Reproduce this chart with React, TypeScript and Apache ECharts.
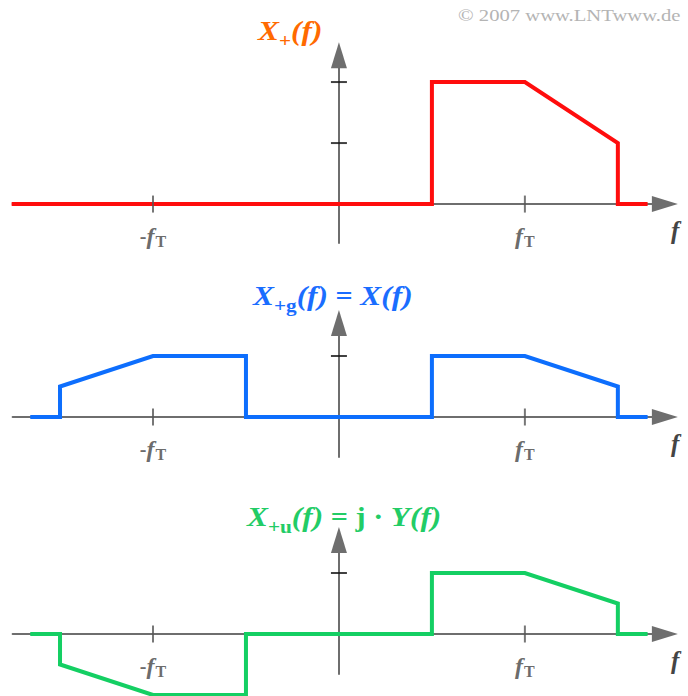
import React, { useEffect, useRef } from "react";
import * as echarts from "echarts";

// Frequency axis in units of f_T
const X_MIN = -1.755;
const X_MAX = 1.753;

// One-sided spectrum X+(f)
const freqPlus = [-1.76, 0.5, 0.5, 1, 1.5, 1.5, 1.66];
const ampPlus = [0, 0, 2, 2, 1, 0, 0];

// Even part X+g(f) = X(f)
const freqEven = [-1.66, -1.5, -1.5, -1, -0.5, -0.5, 0.5, 0.5, 1, 1.5, 1.5, 1.66];
const ampEven = [0, 0, 0.5, 1, 1, 0, 0, 1, 1, 0.5, 0, 0];

// Odd part X+u(f) = j·Y(f)
const freqOdd = [-1.66, -1.5, -1.5, -1, -0.5, -0.5, 0.5, 0.5, 1, 1.5, 1.5, 1.66];
const ampOdd = [0, 0, -0.5, -1, -1, 0, 0, 1, 1, 0.5, 0, 0];

// Tick positions
const xTickValues = [-1, 1];
const yTicksPlus = [1, 2];
const yTicksEven = [1];
const yTicksOdd = [1];

const SERIF = "'Liberation Serif', 'Times New Roman', serif";
const AXIS_GRAY = "#6e6e6e";
const LABEL_GRAY = "#444";

const panels = [
  {
    freq: freqPlus, amp: ampPlus, yTicks: yTicksPlus,
    color: "#ff0d0d", titleColor: "#ff6a00",
    yMin: -0.64, yMax: 2.44, top: 55.2, height: 187.9,
    title: "{i|X}{s|+}{i|(f)}", titleX: 258, titleY: 31,
    fLabelY: 230,
  },
  {
    freq: freqEven, amp: ampEven, yTicks: yTicksEven,
    color: "#0d6efd", titleColor: "#1a6dff",
    yMin: -0.656, yMax: 1.54, top: 323.06, height: 133.96,
    title: "{i|X}{s|+g}{i|(f)}{r| = }{i|X(f)}", titleX: 253, titleY: 296,
    fLabelY: 443,
  },
  {
    freq: freqOdd, amp: ampOdd, yTicks: yTicksOdd,
    color: "#14cf63", titleColor: "#22cc66",
    yMin: -0.656, yMax: 1.54, top: 540.06, height: 133.96,
    title: "{i|X}{s|+u}{i|(f)}{r| = j · }{i|Y(f)}", titleX: 247, titleY: 517,
    fLabelY: 660,
  },
];

const pairs = (xs: number[], ys: number[]) => xs.map((x, k) => [x, ys[k]]);

const tickLabelRich = {
  m: { fontFamily: SERIF, fontWeight: "bold", fontSize: 20, color: LABEL_GRAY },
  f: { fontFamily: SERIF, fontStyle: "italic", fontWeight: "bold", fontSize: 24, color: LABEL_GRAY },
  t: { fontFamily: SERIF, fontWeight: "bold", fontSize: 16, color: LABEL_GRAY, padding: [11, 0, 0, 1] },
};

export default function App() {
  const ref = useRef<HTMLDivElement>(null);

  useEffect(() => {
    if (!ref.current) return;
    const chart = echarts.init(ref.current, undefined, { renderer: "svg" });

    const grid: any[] = [];
    const xAxis: any[] = [];
    const yAxis: any[] = [];
    const series: any[] = [];
    const graphic: any[] = [];

    panels.forEach((p, i) => {
      grid.push({ left: 12.6, width: 652.3, top: p.top, height: p.height });
      xAxis.push({
        gridIndex: i,
        type: "value",
        min: X_MIN,
        max: X_MAX,
        axisLine: {
          onZero: true,
          symbol: ["none", "triangle"],
          symbolSize: [16, 26],
          lineStyle: { color: AXIS_GRAY, width: 2 },
        },
        axisTick: { show: false },
        splitLine: { show: false },
        axisLabel: { show: false },
      });
      yAxis.push({
        gridIndex: i,
        type: "value",
        min: p.yMin,
        max: p.yMax,
        axisLine: {
          onZero: true,
          symbol: ["none", "triangle"],
          symbolSize: [16, 26],
          lineStyle: { color: AXIS_GRAY, width: 2 },
        },
        axisTick: { show: false },
        axisLabel: { show: false },
        splitLine: { show: false },
      });
      series.push({
        type: "line",
        xAxisIndex: i,
        yAxisIndex: i,
        data: pairs(p.freq, p.amp),
        showSymbol: false,
        symbol: "none",
        clip: false,
        lineStyle: { color: p.color, width: 4, join: "miter" },
        z: 3,
        silent: true,
      });
      // ±f_T ticks on the frequency axis, labelled underneath
      series.push({
        type: "scatter",
        xAxisIndex: i,
        yAxisIndex: i,
        data: xTickValues.map((v) => [v, 0]),
        symbol: "rect",
        symbolSize: [2, 17],
        itemStyle: { color: "#555" },
        label: {
          show: true,
          position: "bottom",
          distance: 10,
          formatter: (prm: any) => (prm.value[0] < 0 ? "{m|-}{f|f}{t|T}" : "{f|f}{t|T}"),
          rich: tickLabelRich,
        },
        z: 4,
        silent: true,
      });
      series.push({
        type: "scatter",
        xAxisIndex: i,
        yAxisIndex: i,
        data: p.yTicks.map((v) => [0, v]),
        symbol: "rect",
        symbolSize: [16, 2],
        itemStyle: { color: "#111" },
        z: 4,
        silent: true,
      });

      const tStyle = { fontFamily: SERIF, fill: p.titleColor };
      graphic.push({
        type: "text",
        x: p.titleX,
        y: p.titleY,
        scaleX: 1.12,
        style: {
          text: p.title,
          textVerticalAlign: "middle",
          rich: {
            i: { ...tStyle, fontStyle: "italic", fontWeight: "bold", fontSize: 28 },
            s: { ...tStyle, fontWeight: "bold", fontSize: 19, padding: [18, 0, 0, 0] },
            r: { ...tStyle, fontWeight: "bold", fontSize: 27 },
          },
        },
      });
      graphic.push({
        type: "text",
        x: 671,
        y: p.fLabelY,
        style: {
          text: "f",
          fontFamily: SERIF,
          fontStyle: "italic",
          fontWeight: "bold",
          fontSize: 25,
          fill: LABEL_GRAY,
          textVerticalAlign: "middle",
        },
      });
    });

    graphic.push({
      type: "text",
      x: 458,
      y: 16,
      scaleX: 1.29,
      style: {
        text: "© 2007 www.LNTwww.de",
        fontFamily: SERIF,
        fontSize: 16,
        fill: "#b4b4b4",
        textVerticalAlign: "middle",
      },
    });

    chart.setOption({
      animation: false,
      backgroundColor: "#ffffff",
      grid,
      xAxis,
      yAxis,
      series,
      graphic,
    });

    return () => chart.dispose();
  }, []);

  return (
    <div
      ref={ref}
      style={{ position: "absolute", left: 0, top: 0, width: 688, height: 696 }}
    />
  );
}
